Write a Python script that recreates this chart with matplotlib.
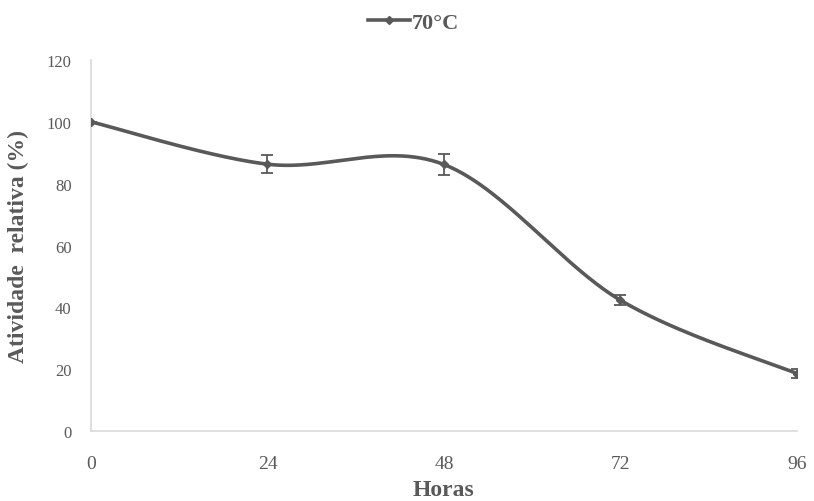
import numpy as np
import matplotlib
matplotlib.use("Agg")
import matplotlib.pyplot as plt
from matplotlib.lines import Line2D

# data
horas = [0, 24, 48, 72, 96]
atividade = [100, 86.3, 86.2, 42.3, 18.6]
erro = [0, 3.0, 3.4, 1.6, 1.5]
xticks = [0, 24, 48, 72, 96]
yticks = [0, 20, 40, 60, 80, 100, 120]

LINE = '#595959'
GRID = '#d9d9d9'
TXT = '#595959'


def smooth(x, y, n=60, t=1/6):
    # excel-like bezier smoothing between data points
    x = np.asarray(x, float); y = np.asarray(y, float)
    px, py = [], []
    for i in range(len(x) - 1):
        x0, y0 = (x[i-1], y[i-1]) if i > 0 else (x[i], y[i])
        x3, y3 = (x[i+2], y[i+2]) if i + 2 < len(x) else (x[i+1], y[i+1])
        c1 = (x[i] + t*(x[i+1]-x0), y[i] + t*(y[i+1]-y0))
        c2 = (x[i+1] - t*(x3-x[i]), y[i+1] - t*(y3-y[i]))
        s = np.linspace(0, 1, n)
        bx = (1-s)**3*x[i] + 3*(1-s)**2*s*c1[0] + 3*(1-s)*s**2*c2[0] + s**3*x[i+1]
        by = (1-s)**3*y[i] + 3*(1-s)**2*s*c1[1] + 3*(1-s)*s**2*c2[1] + s**3*y[i+1]
        px.extend(bx); py.extend(by)
    return np.array(px), np.array(py)


plt.rcParams['font.family'] = ['Liberation Serif', 'DejaVu Serif']

fig = plt.figure(figsize=(8.14, 5.02), dpi=100)
ax = fig.add_axes([0.1118, 0.1394, 0.979 - 0.1118, 0.8785 - 0.1394])

sx, sy = smooth(horas, atividade)
ax.plot(sx, sy, color=LINE, lw=2.6, solid_capstyle='round', zorder=3)
ax.errorbar(horas, atividade, yerr=erro, fmt='D', ms=4.5, color=LINE,
            ecolor=LINE, elinewidth=1.3, capsize=4, capthick=1.3, zorder=4)

ax.set_xlim(0, 96)
ax.set_ylim(0, 120)
ax.set_xticks(xticks)
ax.set_yticks(yticks)
ax.tick_params(length=0, labelsize=12, colors=TXT)
ax.tick_params(axis='x', pad=17, labelsize=14)
ax.tick_params(axis='y', pad=14)
for s in ['top', 'right']:
    ax.spines[s].set_visible(False)
for s in ['left', 'bottom']:
    ax.spines[s].set_color(GRID)
    ax.spines[s].set_linewidth(1.2)

ax.set_xlabel('Horas', fontsize=17, fontweight='bold', color=TXT, labelpad=5)
ax.set_ylabel('Atividade  relativa (%)', fontsize=17, fontweight='bold', color=TXT, labelpad=13)

h = Line2D([], [], color=LINE, lw=2.6, marker='D', ms=4.5)
fig.legend([h], ['70°C'], loc='center', bbox_to_anchor=(0.508, 0.953), frameon=False,
           prop={'size': 16, 'weight': 'bold'}, labelcolor=TXT, handlelength=1.9,
           handletextpad=0.05)

fig.savefig('out.png', dpi=100)
